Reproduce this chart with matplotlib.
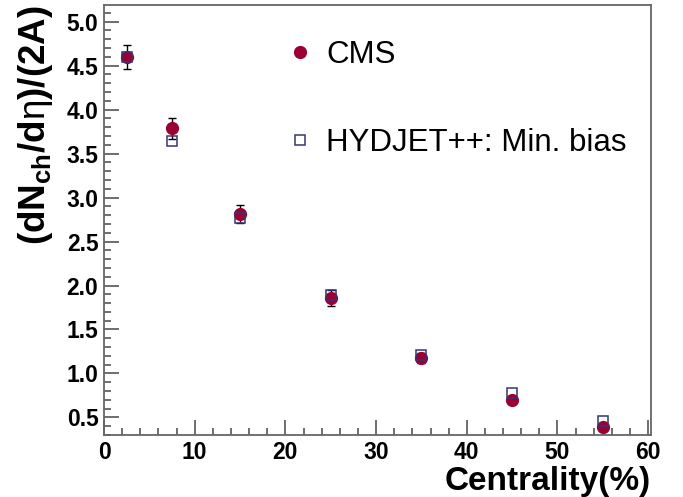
import matplotlib
matplotlib.use('Agg')
import matplotlib.pyplot as plt
from matplotlib.lines import Line2D
from matplotlib.ticker import MultipleLocator
import numpy as np

plt.rcParams['font.family'] = ['Liberation Sans', 'DejaVu Sans']
plt.rcParams['mathtext.fontset'] = 'custom'
plt.rcParams['mathtext.rm'] = 'Liberation Sans'
plt.rcParams['mathtext.bf'] = 'Liberation Sans:bold'
plt.rcParams['mathtext.it'] = 'Liberation Sans:italic'

# data
centrality = [2.5, 7.5, 15, 25, 35, 45, 55]
cms = [4.60, 3.79, 2.815, 1.86, 1.175, 0.70, 0.39]
cms_err = [0.14, 0.12, 0.105, 0.09, 0.06, 0.04, 0.03]
hydjet = [4.60, 3.64, 2.77, 1.89, 1.21, 0.78, 0.46]

red = '#9a0033'
navy = '#353573'

fig = plt.figure(figsize=(6.83, 4.97), dpi=100)
ax = fig.add_axes([0.1523, 0.1247, 0.8007, 0.8653])

ax.errorbar(centrality, cms, yerr=cms_err, fmt='none', ecolor='black',
            elinewidth=1.0, capsize=3, capthick=1.0, zorder=2)
ax.plot(centrality, cms, 'o', color=red, markersize=8.5, zorder=3)
ax.plot(centrality, hydjet, 's', mfc='none', mec=navy, mew=1.1,
        markersize=6.8, zorder=4)

ax.set_xlim(0, 60.3)
ax.set_ylim(0.3, 5.19)
ax.xaxis.set_major_locator(MultipleLocator(10))
ax.xaxis.set_minor_locator(MultipleLocator(2))
ax.yaxis.set_major_locator(MultipleLocator(0.5))
ax.yaxis.set_minor_locator(MultipleLocator(0.1))
ax.yaxis.set_major_formatter(matplotlib.ticker.FormatStrFormatter('%.1f'))
ax.tick_params(which='both', direction='in', top=False, right=False,
               color='#555555', width=1.2)
ax.tick_params(which='major', length=11, labelsize=16.5, pad=4)
ax.tick_params(which='minor', length=5)
for lab in ax.get_xticklabels() + ax.get_yticklabels():
    lab.set_fontweight('bold')
for s in ax.spines.values():
    s.set_color('#666666')
    s.set_linewidth(1.3)

ax.set_xlabel('Centrality(%)', fontsize=24, fontweight='bold', loc='right',
              labelpad=2)
ax.set_ylabel(r'(dN$_{\mathbf{ch}}$/d$\mathrm{\eta}$)/(2A)', fontsize=26.5,
              fontweight='bold', loc='top', labelpad=8)

handles = [
    Line2D([], [], ls='none', marker='o', color=red, markersize=8.5),
    Line2D([], [], ls='none', marker='s', mfc='none', mec=navy, mew=1.1,
           markersize=6.8),
]
ax.legend(handles, ['CMS', 'HYDJET++: Min. bias'], loc='upper left',
          bbox_to_anchor=(0.278, 0.985), frameon=False, fontsize=22.5,
          labelspacing=1.86, handlelength=1.0, handletextpad=0.34)

fig.savefig('out.png', dpi=100)
